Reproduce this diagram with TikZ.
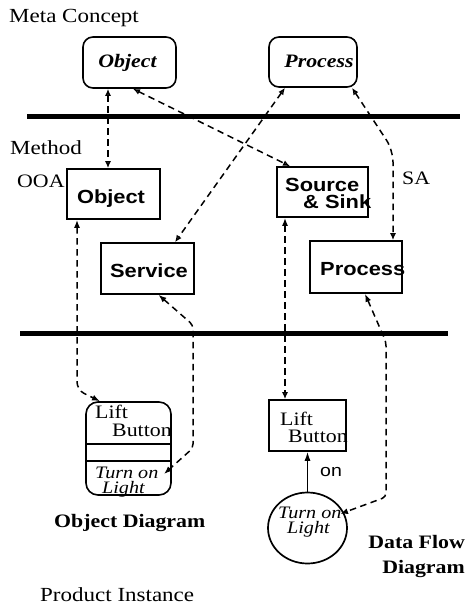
\documentclass[tikz,border=0pt]{standalone}
\usepackage{fontspec}
\setmainfont[FakeStretch=1.15]{Liberation Serif}
\setsansfont[FakeStretch=1.15]{Liberation Sans}
\usetikzlibrary{arrows.meta,shapes.geometric}

\tikzset{
  openhead/.tip={Latex[open,length=7pt,width=6pt]},
  fullhead/.tip={Latex[length=8pt,width=6pt]},
  link/.style={line width=1.5pt, dash pattern=on 6.5pt off 4.5pt},
  layerline/.style={line width=5pt},
  metabox/.style={draw, line width=1.6pt, rounded corners=10pt, inner sep=0pt},
  methodbox/.style={draw, line width=1.6pt, inner sep=0pt},
  heading/.style={font=\fontsize{20}{24}\selectfont, inner sep=0pt},
  serif/.style={font=\fontsize{19}{22}\selectfont, inner sep=0pt},
  metalbl/.style={font=\fontsize{19}{22}\selectfont\bfseries\itshape, inner sep=0pt},
  sanslbl/.style={font=\fontsize{19}{22}\selectfont\sffamily\bfseries, inner sep=0pt},
  itlbl/.style={font=\fontsize{17.5}{20}\selectfont\itshape, inner sep=0pt},
  boldlbl/.style={font=\fontsize{19}{22}\selectfont\bfseries, inner sep=0pt},
}

\begin{document}
\begin{tikzpicture}[x=1pt, y=-1pt]
\useasboundingbox (0,0) rectangle (473,607);

% ---- layer titles ----
\node[heading, anchor=base west] (tmeta) at (9,23) {Meta Concept};
\node[heading, anchor=base west] (tmethod) at (10,154) {Method};
\node[heading, anchor=base west] (tprod) at (40,601) {Product Instance};
\node[serif, anchor=base west] (tooa) at (17,187) {OOA};
\node[serif, anchor=base west] (tsa) at (402,184) {SA};

% ---- layer separators ----
\coordinate (sepAl) at (27,117);
\coordinate (sepAr) at (460,117);
\coordinate (sepBl) at (20,333);
\coordinate (sepBr) at (448,333);
\draw[layerline] (sepAl) -- (sepAr);
\draw[layerline] (sepBl) -- (sepBr);

% ---- meta concepts ----
\node[metabox, minimum width=93pt, minimum height=51pt] (metaobj) at (129.5,62.5) {};
\node[metalbl, anchor=base] (metaobjt) at (127.5,68) {Object};
\node[metabox, minimum width=88pt, minimum height=50pt] (metaproc) at (313,62) {};
\node[metalbl, anchor=base] (metaproct) at (319,68) {Process};

% ---- method level ----
\node[methodbox, minimum width=93pt, minimum height=50pt] (ooaobj) at (113.5,194) {};
\node[sanslbl, anchor=base] (ooaobjt) at (111,203) {Object};
\node[methodbox, minimum width=93pt, minimum height=51pt] (service) at (147.5,268.5) {};
\node[sanslbl, anchor=base] (servicet) at (149,277) {Service};
\node[methodbox, minimum width=91pt, minimum height=50pt] (srcsink) at (322.5,192) {};
\node[sanslbl, anchor=base west] (srct) at (285,191) {Source};
\node[sanslbl, anchor=base west] (sinkt) at (303,208) {\& Sink};
\node[methodbox, minimum width=92pt, minimum height=52pt] (proc) at (356,267) {};
\node[sanslbl, anchor=base west] (proct) at (320,275) {Process};

% ---- object diagram ----
\node[metabox, rounded corners=12pt, minimum width=85pt, minimum height=93pt] (liftobj) at (128.5,448.5) {};
\coordinate (divAl) at (86,444);
\coordinate (divAr) at (171,444);
\coordinate (divBl) at (86,461);
\coordinate (divBr) at (171,461);
\draw[line width=1.5pt] (divAl) -- (divAr);
\draw[line width=1.5pt] (divBl) -- (divBr);
\node[serif, anchor=base west] (liftobjA) at (95,418) {Lift};
\node[serif, anchor=base west] (liftobjB) at (112,436) {Button};
\node[itlbl, anchor=base west] (turnobjA) at (95,478) {Turn on};
\node[itlbl, anchor=base west] (turnobjB) at (102,493) {Light};
\node[boldlbl, anchor=base west] (objdiag) at (54,527) {Object Diagram};

% ---- data flow diagram ----
\node[methodbox, minimum width=77pt, minimum height=51pt] (dfdlift) at (307.5,425.5) {};
\node[serif, anchor=base west] (dfdliftA) at (280,425) {Lift};
\node[serif, anchor=base west] (dfdliftB) at (288,442) {Button};
\node[draw, line width=1.7pt, ellipse, minimum width=79pt, minimum height=71pt, inner sep=0pt] (circ) at (307.5,528) {};
\node[itlbl, anchor=base west] (turncA) at (278,518) {Turn on};
\node[itlbl, anchor=base west] (turncB) at (287,533) {Light};
\node[font=\fontsize{17}{20}\selectfont\sffamily, inner sep=0pt, anchor=base west] (onlbl) at (320,476) {on};
\node[boldlbl, anchor=base east] (dfdA) at (465,548) {Data Flow};
\node[boldlbl, anchor=base east] (dfdB) at (465,573) {Diagram};

\draw[line width=1.4pt, -{Latex[length=9pt,width=6pt]}] (circ.north) -- (dfdlift.south);

% ---- bend points and free ends of the links ----
\coordinate (k4) at (393,150);
\coordinate (k5) at (77,390);
\coordinate (k6a) at (193,325);
\coordinate (k6b) at (193,448);
\coordinate (k8a) at (386,342);
\coordinate (k8b) at (386,497);
\coordinate (toturnobj) at (164,474);
\coordinate (toturnc) at (340,514);

% ---- links between layers ----
\draw[link, openhead-openhead] ([xshift=-21.5pt]metaobj.south) -- ([xshift=-5.5pt]ooaobj.north);
\draw[link, openhead-openhead] ([xshift=3.5pt]metaobj.south) -- ([xshift=-32.5pt]srcsink.north);
\draw[link, openhead-openhead] ([xshift=-28pt]metaproc.south) -- ([xshift=27.5pt]service.north);
\draw[link, openhead-openhead, rounded corners=12pt] ([xshift=39pt]metaproc.south) -- (k4) -- ([xshift=37pt]proc.north);

\draw[link, fullhead-fullhead, rounded corners=8pt] ([xshift=-36.5pt]ooaobj.south) -- (k5) -- ([xshift=-28.5pt]liftobj.north);
\draw[link, fullhead-fullhead, rounded corners=4pt] ([xshift=11pt]service.south) -- (k6a) -- (k6b) -- (toturnobj);
\draw[link, fullhead-openhead] ([xshift=-37.5pt]srcsink.south) -- ([xshift=-22.5pt]dfdlift.north);
\draw[link, fullhead-fullhead, rounded corners=4pt] ([xshift=9pt]proc.south) -- (k8a) -- (k8b) -- (toturnc);
\end{tikzpicture}
\end{document}
